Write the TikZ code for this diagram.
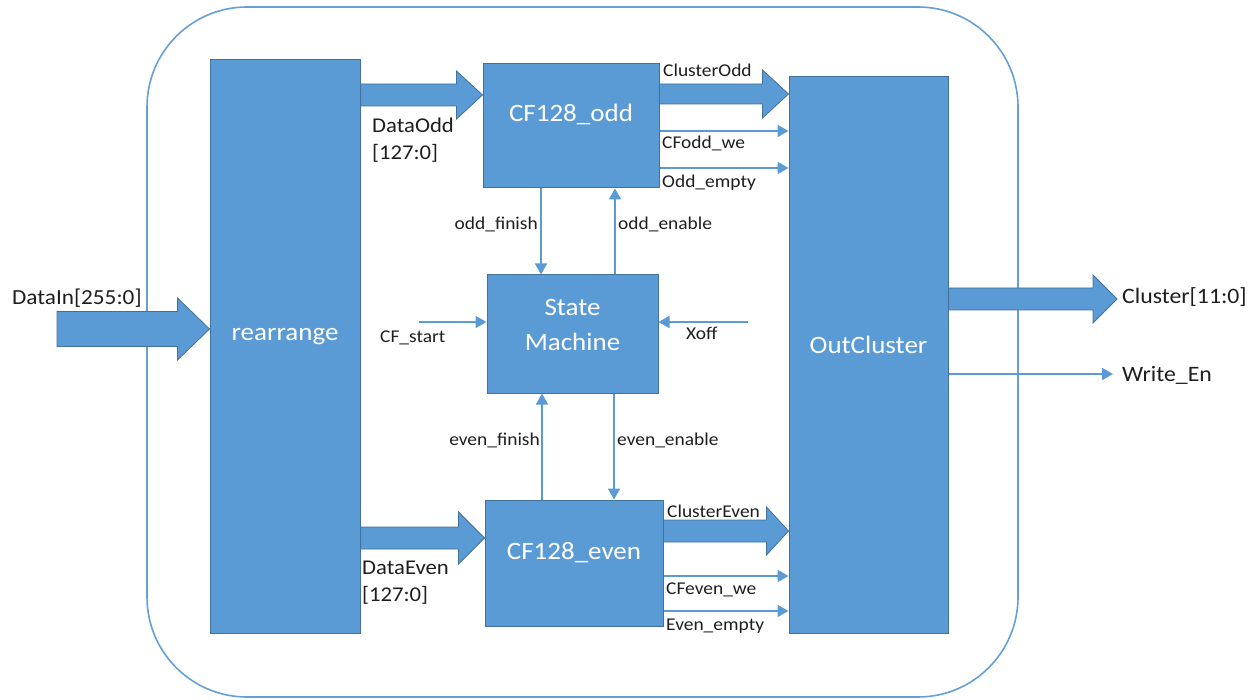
\documentclass[tikz,border=0pt]{standalone}
\usepackage{fontspec}
\setmainfont{Carlito}[FakeStretch=1.08]
\usetikzlibrary{arrows.meta,calc}
\definecolor{blk}{RGB}{91,155,213}
\definecolor{blkedge}{RGB}{65,113,156}
\definecolor{frame}{RGB}{100,160,215}
\definecolor{txt}{RGB}{30,30,30}
\tikzset{
  block/.style={draw=blkedge, fill=blk, line width=1pt, inner sep=0pt, minimum width=#1},
  blocktext/.style={text=white, font=\fontsize{25}{30}\selectfont, align=center, inner sep=0pt},
  fatarr/.style={draw=blkedge, fill=blk, line width=0.8pt},
  sig/.style={draw=blk, line width=1.8pt, -{Triangle[length=11pt,width=12pt]}},
  lbl/.style={text=txt, font=\fontsize{18}{20}\selectfont, inner sep=1pt},
  biglbl/.style={text=txt, font=\fontsize{21}{27}\selectfont, inner sep=0pt, align=left},
}
\newcommand\fatarrow[5]{%
  \filldraw[fatarr] let \p1=#1, \p2=#2 in
    (\x1,\y1+#3) -- (\x2-#5,\y1+#3) -- (\x2-#5,\y1+#4) -- (\x2,\y1)
    -- (\x2-#5,\y1-#4) -- (\x2-#5,\y1-#3) -- (\x1,\y1-#3) -- cycle;}
\begin{document}
\begin{tikzpicture}[x=1pt,y=-1pt]
\useasboundingbox (0,0) rectangle (1257,700);
% outer frame
\draw[frame, line width=1.6pt, rounded corners=100pt] (147,7) rectangle (1018,697);
% blocks
\node[block=150pt, minimum height=573pt] (rearr) at (285,346.5) {};
\node[block=176pt, minimum height=124pt] (odd) at (571,126) {};
\node[block=171pt, minimum height=118pt] (sm) at (572.5,334) {};
\node[block=178pt, minimum height=126pt] (even) at (574,563) {};
\node[block=159pt, minimum height=556pt] (outc) at (868.5,355) {};
\node[blocktext] (rearrT) at ($(rearr.center)+(0,-10)$) {rearrange};
\node[blocktext] (oddT) at ($(odd.center)+(0,-11)$) {CF128\_odd};
\node[blocktext, font=\fontsize{25}{35}\selectfont] (smT) at ($(sm.center)+(0,-9)$) {State\\Machine};
\node[blocktext] (evenT) at ($(even.center)+(0,-10)$) {CF128\_even};
\node[blocktext] (outcT) at ($(outc.center)+(0,-10)$) {OutCluster};
% fat arrows
\coordinate (dinS) at (57,329);
\coordinate (clOut) at (1117,299);
\fatarrow{(dinS)}{(rearr.west |- dinS)}{17.5}{31}{32}
\fatarrow{(rearr.east |- 0,95)}{(odd.west |- 0,95)}{11}{24}{26}
\fatarrow{(odd.east |- 0,94)}{(outc.west |- 0,94)}{10}{24}{26}
\fatarrow{(rearr.east |- 0,538)}{(even.west |- 0,538)}{11}{26}{26}
\fatarrow{(even.east |- 0,531)}{(outc.west |- 0,531)}{11}{24}{22}
\fatarrow{(outc.east |- clOut)}{(clOut)}{11}{24}{24}
% thin signals
\draw[sig] (odd.east |- 0,131) -- (outc.west |- 0,131);
\draw[sig] (odd.east |- 0,168) -- (outc.west |- 0,168);
\draw[sig] (even.east |- 0,576) -- (outc.west |- 0,576);
\draw[sig] (even.east |- 0,611) -- (outc.west |- 0,611);
\coordinate (weEnd) at (1113,374);
\draw[sig] (outc.east |- weEnd) -- (weEnd);
\draw[sig] (odd.south -| 541,0) -- (sm.north -| 541,0);
\draw[sig] (sm.north -| 615,0) -- (odd.south -| 615,0);
\draw[sig] (even.north -| 542,0) -- (sm.south -| 542,0);
\draw[sig] (sm.south -| 614,0) -- (even.north -| 614,0);
\coordinate (cfS) at (419,322);
\coordinate (xoffS) at (748,322);
\draw[sig] (cfS) -- (sm.west |- cfS);
\draw[sig] (xoffS) -- (sm.east |- xoffS);
% labels
\node[lbl, fill=white, anchor=west] (lClO) at (662,70) {ClusterOdd};
\node[lbl, anchor=west] (lCFo) at (661,143) {CFodd\_we};
\node[lbl, anchor=west] (lOe) at (661,183) {Odd\_empty};
\node[lbl, fill=white, anchor=west] (lClE) at (666,511) {ClusterEven};
\node[lbl, anchor=west] (lCFe) at (665,590) {CFeven\_we};
\node[lbl, anchor=west] (lEe) at (665,626) {Even\_empty};
\node[lbl, anchor=east] (lof) at (539,224) {odd\_finish};
\node[lbl, anchor=west] (loe) at (617,224) {odd\_enable};
\node[lbl, anchor=east] (lef) at (541,440) {even\_finish};
\node[lbl, anchor=west] (lee) at (616,440) {even\_enable};
\node[lbl, anchor=west] (lcf) at (379,338) {CF\_start};
\node[lbl, anchor=west] (lxo) at (685,333) {Xoff};
\node[biglbl, anchor=west] (ldo) at (372,140) {DataOdd\\{}[127:0]};
\node[biglbl, anchor=west] (lde) at (362,583) {DataEven\\{}[127:0]};
\node[biglbl, font=\fontsize{21.5}{26}\selectfont, anchor=west] (ldin) at (12,298) {DataIn[255:0]};
\node[biglbl, font=\fontsize{22}{26}\selectfont, anchor=west] (lclu) at (1122,297) {Cluster[11:0]};
\node[biglbl, font=\fontsize{22}{26}\selectfont, anchor=west] (lwe) at (1122,375) {Write\_En};
\end{tikzpicture}
\end{document}
